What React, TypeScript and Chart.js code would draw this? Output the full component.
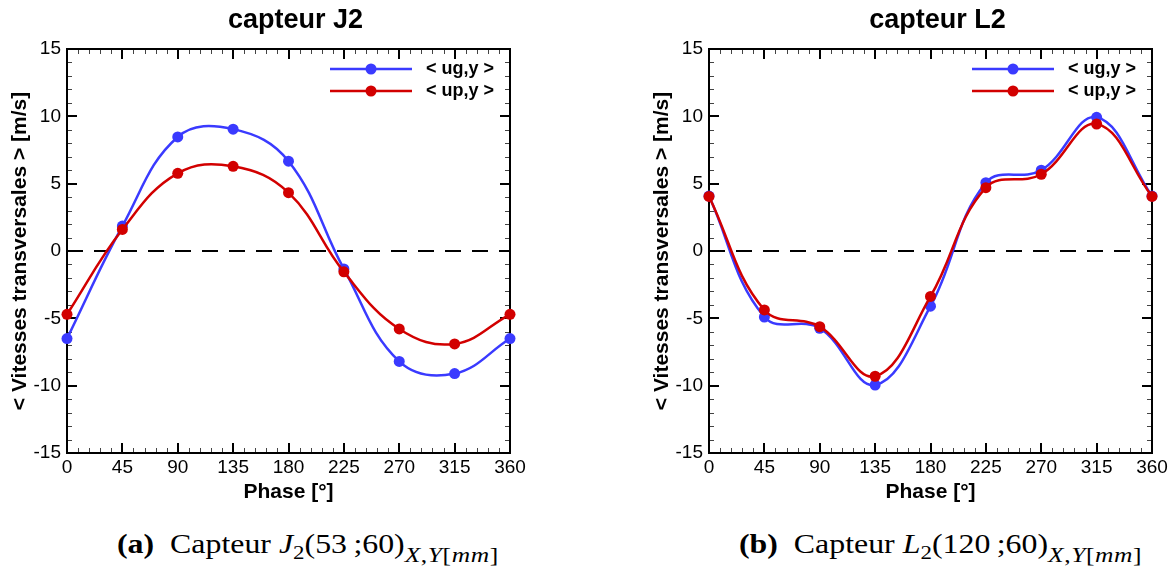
import React, { useEffect, useRef } from "react";
import { Chart, registerables } from "chart.js";

Chart.register(...registerables);

// ---------- data ----------
const phases = [0, 45, 90, 135, 180, 225, 270, 315, 360];
const j2Ug = [-6.5, 1.85, 8.47, 9.05, 6.67, -1.33, -8.2, -9.1, -6.5];
const j2Up = [-4.7, 1.6, 5.77, 6.29, 4.33, -1.55, -5.79, -6.9, -4.7];
const l2Ug = [4.08, -4.9, -5.74, -9.95, -4.1, 5.07, 6.0, 9.93, 4.08];
const l2Up = [4.05, -4.38, -5.62, -9.3, -3.37, 4.7, 5.7, 9.43, 4.05];
const zeroX = [0, 360];
const zeroY = [0, 0];
const seriesLabels = ["< ug,y >", "< up,y >"];
const chartTitles = ["capteur J2", "capteur L2"];
const xTitle = "Phase [°]";
const yTitle = "< Vitesses transversales > [m/s]";
const xMin = 0, xMax = 360, xMajor = 45, xMinor = 9;
const yMin = -15, yMax = 15, yMajor = 5, yMinor = 1;

// ---------- styles ----------
const BLUE = "#3a3aff";
const RED = "#d20000";
const SANS = '"Liberation Sans", Arial, Helvetica, sans-serif';

const framePlugin = {
  id: "frameTicks",
  beforeDatasetsDraw(chart: any) {
    const { ctx, chartArea } = chart;
    const { left, right, top, bottom } = chartArea;
    const xs = chart.scales.x;
    const ys = chart.scales.y;
    ctx.save();
    xs.ticks.forEach((t: any) => {
      const major = Math.abs(t.value % xMajor) < 1e-6;
      if (t.value <= xMin || t.value >= xMax) return;
      const px = Math.round(xs.getPixelForValue(t.value)) + (major ? 0 : 0.5);
      const len = major ? 10 : 5;
      ctx.lineWidth = major ? 2 : 1;
      ctx.strokeStyle = major ? "#000" : "#444";
      ctx.beginPath();
      ctx.moveTo(px, bottom);
      ctx.lineTo(px, bottom - len);
      ctx.moveTo(px, top);
      ctx.lineTo(px, top + len);
      ctx.stroke();
    });
    ys.ticks.forEach((t: any) => {
      const major = Math.abs(t.value % yMajor) < 1e-6;
      if (t.value <= yMin || t.value >= yMax) return;
      const py = Math.round(ys.getPixelForValue(t.value)) + (major ? 0 : 0.5);
      const len = major ? 10 : 5;
      ctx.lineWidth = major ? 2 : 1;
      ctx.strokeStyle = major ? "#000" : "#444";
      ctx.beginPath();
      ctx.moveTo(left, py);
      ctx.lineTo(left + len, py);
      ctx.moveTo(right, py);
      ctx.lineTo(right - len, py);
      ctx.stroke();
    });
    ctx.lineWidth = 2;
    ctx.strokeStyle = "#000";
    ctx.strokeRect(left, top, right - left, bottom - top);
    ctx.restore();
  },
};

const legendTitlePlugin = {
  id: "legendTitle",
  afterDatasetsDraw(chart: any, _args: any, opts: any) {
    const { ctx, chartArea } = chart;
    const { left, right, top } = chartArea;
    ctx.save();
    // title
    ctx.fillStyle = "#000";
    ctx.font = `bold 27px ${SANS}`;
    ctx.textAlign = "center";
    ctx.textBaseline = "alphabetic";
    ctx.fillText(opts.title, (left + right) / 2 + 7, 28);
    // legend
    const dsList = chart.data.datasets.filter((d: any) => d.inLegend);
    dsList.forEach((d: any, i: number) => {
      const y = top + 20 + i * 22;
      ctx.strokeStyle = d.borderColor;
      ctx.lineWidth = 2.5;
      ctx.beginPath();
      ctx.moveTo(right - 180, y);
      ctx.lineTo(right - 98, y);
      ctx.stroke();
      ctx.fillStyle = d.borderColor;
      ctx.beginPath();
      ctx.arc(right - 139, y, 5.5, 0, Math.PI * 2);
      ctx.fill();
      ctx.fillStyle = "#000";
      ctx.font = `bold 18px ${SANS}`;
      ctx.textAlign = "left";
      ctx.textBaseline = "middle";
      ctx.fillText(d.label, right - 84, y);
    });
    ctx.restore();
  },
};

function makeSeries(label: string, vals: number[], color: string, order: number) {
  return {
    label,
    inLegend: true,
    data: phases.map((p, i) => ({ x: p, y: vals[i] })),
    borderColor: color,
    backgroundColor: color,
    borderWidth: 2.5,
    pointRadius: 5.5,
    pointBorderWidth: 0,
    pointBackgroundColor: color,
    tension: 0.4,
    clip: false,
    order,
  };
}

function PhaseChart(props: {
  title: string;
  ug: number[];
  up: number[];
  width: number;
  padRight: number;
}) {
  const ref = useRef<HTMLCanvasElement | null>(null);
  useEffect(() => {
    if (!ref.current) return;
    const chart = new Chart(ref.current, {
      type: "line",
      data: {
        datasets: [
          {
            label: "zero",
            inLegend: false,
            data: zeroX.map((x, i) => ({ x, y: zeroY[i] })),
            borderColor: "#000",
            borderWidth: 2,
            borderDash: [16, 11],
            pointRadius: 0,
            clip: false,
            order: 3,
          } as any,
          makeSeries(seriesLabels[0], props.ug, BLUE, 2) as any,
          makeSeries(seriesLabels[1], props.up, RED, 1) as any,
        ],
      },
      options: {
        animation: false,
        responsive: false,
        maintainAspectRatio: false,
        events: [],
        layout: { padding: { top: 49, right: props.padRight, left: 0, bottom: 0 } },
        plugins: {
          legend: { display: false },
          title: { display: false },
          tooltip: { enabled: false },
          legendTitle: { title: props.title },
        } as any,
        scales: {
          x: {
            type: "linear",
            min: xMin,
            max: xMax,
            grid: { display: false, drawTicks: false },
            border: { display: false },
            ticks: {
              stepSize: xMinor,
              autoSkip: false,
              maxRotation: 0,
              padding: 3,
              color: "#000",
              font: { family: SANS, size: 19 },
              callback: (v: any) => (Number(v) % xMajor === 0 ? String(v) : ""),
            },
            title: {
              display: true,
              text: xTitle,
              color: "#000",
              font: { family: SANS, size: 21, weight: "bold" },
              padding: { top: 0, bottom: 10 },
            },
            afterFit: (s: any) => {
              s.height = 62;
            },
          },
          y: {
            type: "linear",
            min: yMin,
            max: yMax,
            grid: { display: false, drawTicks: false },
            border: { display: false },
            ticks: {
              stepSize: yMinor,
              autoSkip: false,
              padding: 6,
              color: "#000",
              font: { family: SANS, size: 19 },
              callback: (v: any) => (Number(v) % yMajor === 0 ? String(v) : ""),
            },
            title: {
              display: true,
              text: yTitle,
              color: "#000",
              font: { family: SANS, size: 21, weight: "bold" },
              padding: { top: 8, bottom: 0 },
            },
            afterFit: (s: any) => {
              s.width = 67;
            },
          },
        },
      } as any,
      plugins: [framePlugin, legendTitlePlugin],
    });
    return () => chart.destroy();
  }, []);
  return <canvas ref={ref} width={props.width} height={515} style={{ display: "block" }} />;
}

const capStyle: React.CSSProperties = {
  position: "absolute",
  top: 528,
  fontFamily: '"Liberation Serif", "Times New Roman", serif',
  fontSize: 27,
  whiteSpace: "nowrap",
  color: "#000",
  lineHeight: "32px",
  transform: "scaleX(1.18)",
  transformOrigin: "left top",
};
const subStyle: React.CSSProperties = {
  fontSize: "0.72em",
  position: "relative",
  top: "0.3em",
};
const subStyle2: React.CSSProperties = {
  fontSize: "0.8em",
  position: "relative",
  top: "0.42em",
  letterSpacing: "0.5px",
};

export default function App() {
  return (
    <div
      style={{
        position: "fixed",
        left: 0,
        top: 0,
        width: 1174,
        height: 572,
        background: "#fff",
        overflow: "hidden",
      }}
    >
      <div style={{ position: "absolute", left: 0, top: 0 }}>
        <PhaseChart title={chartTitles[0]} ug={j2Ug} up={j2Up} width={587} padRight={77} />
      </div>
      <div style={{ position: "absolute", left: 642, top: 0 }}>
        <PhaseChart title={chartTitles[1]} ug={l2Ug} up={l2Up} width={532} padRight={22} />
      </div>
      <div style={{ ...capStyle, left: 117 }}>
        <b>(a)</b>&nbsp;&nbsp;Capteur <i>J</i>
        <span style={subStyle}>2</span>(53&thinsp;;60)
        <span style={subStyle2}>
          <i>X</i>,<i>Y</i>[<i>mm</i>]
        </span>
      </div>
      <div style={{ ...capStyle, left: 739 }}>
        <b>(b)</b>&nbsp;&nbsp;Capteur <i>L</i>
        <span style={subStyle}>2</span>(120&thinsp;;60)
        <span style={subStyle2}>
          <i>X</i>,<i>Y</i>[<i>mm</i>]
        </span>
      </div>
    </div>
  );
}
